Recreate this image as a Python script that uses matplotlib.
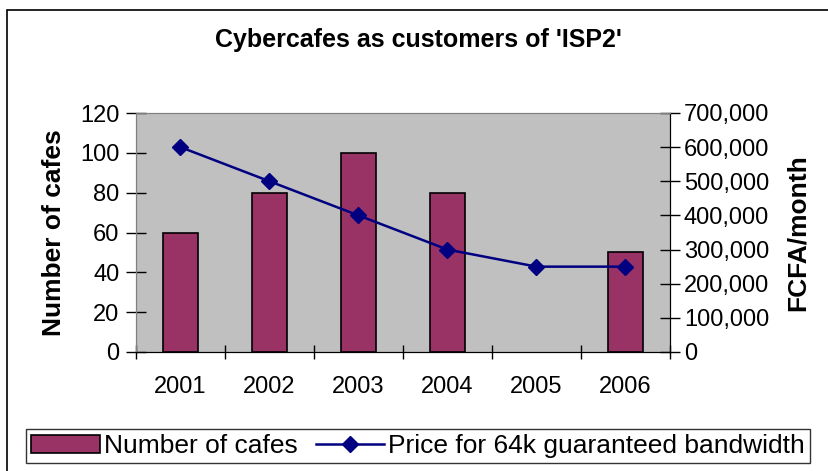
import matplotlib.pyplot as plt
import numpy as np
from matplotlib.patches import Rectangle
from matplotlib.ticker import FuncFormatter

plt.rcParams['font.family'] = ['Liberation Sans', 'DejaVu Sans']

years = ['2001', '2002', '2003', '2004', '2005', '2006']
cafes = [60, 80, 100, 80, np.nan, 50]   # no bar for 2005
price = [600000, 500000, 400000, 300000, 250000, 250000]

fig = plt.figure(figsize=(8.29, 4.71), dpi=100)
W, H = 829, 471
# plot area in pixels: left 136, right 670, top 113, bottom 352
ax = fig.add_axes([136 / W, 1 - 352 / H, (670 - 136) / W, (352 - 113) / H])
ax.set_facecolor('#c0c0c0')

x = np.arange(len(years))
ax.bar(x, cafes, width=0.4, color='#993366', edgecolor='black', linewidth=1.2,
       label='Number of cafes', zorder=2)
ax.set_xlim(-0.5, len(years) - 0.5)
ax.set_ylim(0, 120)
ax.set_yticks(range(0, 121, 20))
ax.set_xticks(x)
ax.set_xticklabels(years)
ax.set_xticks(np.arange(-0.5, len(years), 1), minor=True)
ax.tick_params(axis='x', which='major', length=0, pad=17, labelsize=17)
ax.tick_params(axis='x', which='minor', direction='inout', length=10, width=1)
ax.tick_params(axis='y', direction='inout', length=14, width=1, labelsize=17, pad=5)
ax.set_ylabel('Number of cafes', fontsize=19, fontweight='bold', labelpad=10)

ax2 = ax.twinx()
ax2.plot(x, price, color='#000080', marker='D', markersize=8, linewidth=1.8,
         label='Price for 64k guaranteed bandwidth', zorder=3)
ax2.set_ylim(0, 700000)
ax2.set_yticks(range(0, 700001, 100000))
ax2.yaxis.set_major_formatter(FuncFormatter(lambda v, p: f'{int(v):,}'))
ax2.tick_params(axis='y', direction='inout', length=14, width=1, labelsize=17, pad=3)
ax2.set_ylabel('FCFA/month', fontsize=19, fontweight='bold', labelpad=12)

for a in (ax, ax2):
    a.spines['top'].set_color('#808080')
    a.spines['left'].set_color('#808080')
    a.spines['bottom'].set_color('black')
    a.spines['right'].set_color('black')

fig.text(418 / W, 1 - 40 / H, "Cybercafes as customers of 'ISP2'", ha='center', va='center',
         fontsize=18, fontweight='bold')

h1, l1 = ax.get_legend_handles_labels()
h2, l2 = ax2.get_legend_handles_labels()
leg = fig.legend(h1 + h2, l1 + l2, loc='center', bbox_to_anchor=(418 / W, 1 - 446 / H),
                 ncol=2, fontsize=19, frameon=True, fancybox=False, edgecolor='black',
                 handlelength=2.6, handletextpad=0.15, columnspacing=0.7, borderpad=0.2)
leg.get_frame().set_linewidth(1)

# outer chart border
fig.patches.append(Rectangle((7 / W, -0.1), 1.2, 1 - 10 / H + 0.1, transform=fig.transFigure,
                             fill=False, edgecolor='black', linewidth=1.2))

fig.savefig('out.png', dpi=100, facecolor='white')
